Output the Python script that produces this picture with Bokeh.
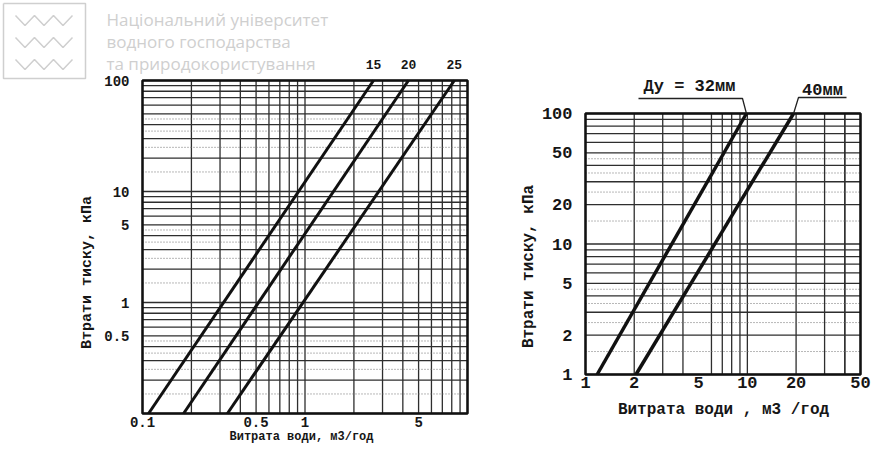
import math
from bokeh.plotting import figure
from bokeh.layouts import row
from bokeh.models import FixedTicker, CustomJSTickFormatter, Label, Range1d
from bokeh.embed import file_html
from bokeh.resources import INLINE

# ---------------- data ----------------
# left chart: DN15 / DN20 / DN25
left_sizes = ["15", "20", "25"]
left_dp = [0.1, 100]            # kPa (line end points)
flow_dn15 = [0.109, 2.64]       # m3/h
flow_dn20 = [0.179, 4.33]
flow_dn25 = [0.333, 8.3]
left_x_range = [0.1, 10]
left_y_range = [0.1, 100]
left_x_ticks = [0.1, 0.5, 1, 5]
left_y_ticks = [0.5, 1, 5, 10, 100]

# right chart: DN32 / DN40
right_sizes = ["Ду = 32мм", "40мм"]
right_dp = [1, 100]
flow_dn32 = [1.18, 9.87]
flow_dn40 = [2.05, 19.3]
right_x_range = [1, 50]
right_y_range = [1, 100]
right_x_ticks = [1, 2, 5, 10, 20, 50]
right_y_ticks = [1, 2, 5, 10, 20, 50, 100]

y_title = "Втрати тиску, кПа"
left_x_title = "Витрата води, м3/год"
right_x_title = "Витрата води , м3 /год"
watermark = ["Національний університет", "водного господарства", "та природокористування"]

MONO = "Liberation Mono"
INK = "#161616"
GRID = "#2e2e2e"
WM = "#cfcfcf"


def log_grid(decades, stop, skip=()):
    vals = []
    for d in decades:
        for m in range(1, 10):
            v = round(d * m, 6)
            if v not in skip:
                vals.append(v)
    vals.append(stop)
    return vals


def half_grid(decades):
    return [round(d * (m + 0.5), 6) for d in decades for m in range(1, 5)]


def make_chart(page_x, page_y, W, H, box, xr, yr):
    """box = (left, right, top, bottom) of the chart frame in page pixels."""
    bl, br, bt, bb = box
    lx0, lx1 = math.log10(xr[0]), math.log10(xr[1])
    dx = (lx1 - lx0) / (br - bl)
    xs = lx0 - (bl - page_x) * dx
    xe = lx1 + (page_x + W - br) * dx
    ly0, ly1 = math.log10(yr[0]), math.log10(yr[1])
    dy = (ly1 - ly0) / (bb - bt)
    ys = ly0 - (page_y + H - bb) * dy
    ye = ly1 + (bt - page_y) * dy
    p = figure(width=W, height=H, x_axis_type="log", y_axis_type="log",
               x_range=Range1d(10 ** xs, 10 ** xe),
               y_range=Range1d(10 ** ys, 10 ** ye),
               output_backend="svg", toolbar_location=None, title=None,
               min_border_left=0, min_border_right=0, min_border_top=0,
               min_border_bottom=0)
    p.background_fill_color = "white"
    p.border_fill_color = "white"
    p.outline_line_color = None
    p.xgrid.visible = False
    p.ygrid.visible = False

    def at(px, py):
        return 10 ** (xs + (px - page_x) * dx), 10 ** (ye - (py - page_y) * dy)
    return p, at


def axes(p, xr, yr, xt, yt, font_px, xstand, ystand):
    ax, ay = p.xaxis[0], p.yaxis[0]
    ax.fixed_location = yr[0]
    ay.fixed_location = xr[0]
    ax.bounds = (xr[0], xr[1])
    ay.bounds = (yr[0], yr[1])
    ax.major_label_standoff = xstand
    ay.major_label_standoff = ystand
    for a, ticks in ((ax, xt), (ay, yt)):
        a.ticker = FixedTicker(ticks=ticks)
        a.formatter = CustomJSTickFormatter(code="return String(tick);")
        a.major_tick_line_color = None
        a.minor_tick_line_color = None
        a.major_tick_out = 0
        a.major_tick_in = 0
        a.minor_tick_out = 0
        a.minor_tick_in = 0
        a.axis_line_color = None
        a.major_label_text_font = MONO
        a.major_label_text_font_style = "bold"
        a.major_label_text_font_size = font_px
        a.major_label_text_color = INK


def grid_and_box(p, xr, yr, gx, gy, gy_dotted):
    p.segment(x0=gx, y0=[yr[0]] * len(gx), x1=gx, y1=[yr[1]] * len(gx),
              line_color=GRID, line_width=1.3)
    p.segment(x0=[xr[0]] * len(gy), y0=gy, x1=[xr[1]] * len(gy), y1=gy,
              line_color=GRID, line_width=1.3)
    p.segment(x0=[xr[0]] * len(gy_dotted), y0=gy_dotted,
              x1=[xr[1]] * len(gy_dotted), y1=gy_dotted,
              line_color="#707070", line_width=1, line_dash="1 2")
    p.quad(left=[xr[0]], right=[xr[1]], bottom=[yr[0]], top=[yr[1]],
           fill_color=None, line_color="#111111", line_width=2.5)


def txt(p, xy, text, size, angle=0.0, align="center", font=MONO,
        style_="bold", color=INK):
    p.add_layout(Label(x=xy[0], y=xy[1], text=text, angle=angle,
                       text_align=align, text_baseline="middle",
                       text_font=font, text_font_style=style_,
                       text_font_size=size, text_color=color))


# ---------------- left chart ----------------
p1, at1 = make_chart(0, 0, 498, 454, (142, 467, 80, 413),
                     left_x_range, left_y_range)
grid_and_box(p1, left_x_range, left_y_range,
             log_grid([0.1, 1], 10), log_grid([0.1, 1, 10], 100),
             half_grid([0.1, 1, 10]))
axes(p1, left_x_range, left_y_range, left_x_ticks, left_y_ticks, "14px", 3, 13)

for flows, name in zip([flow_dn15, flow_dn20, flow_dn25], left_sizes):
    p1.line(flows, left_dp, line_width=3, line_color="#111111")
    txt(p1, (flows[1], at1(0, 64)[1]), name, "13px")

txt(p1, at1(87, 272), y_title, "15px", angle=math.pi / 2)
txt(p1, at1(301, 436), left_x_title, "12px")

# watermark (logo + text)
for i, line in enumerate(watermark):
    txt(p1, at1(106, 19 + i * 22), line, "17px", align="left",
        font="Open Sans", style_="normal", color=WM)
logo = [[(3, 3), (85, 3), (85, 78), (3, 78), (3, 3)]]
for r in range(3):
    top, bot = 15 + r * 22, 25 + r * 22
    logo.append([(15 + k * 9.5, top if k % 2 == 0 else bot) for k in range(7)])
p1.multi_line([[at1(x, y)[0] for x, y in pl] for pl in logo],
              [[at1(x, y)[1] for x, y in pl] for pl in logo],
              line_color=WM, line_width=1.5)

# ---------------- right chart ----------------
p2, at2 = make_chart(498, 0, 374, 454, (585, 860, 113, 374),
                     right_x_range, right_y_range)
grid_and_box(p2, right_x_range, right_y_range,
             log_grid([1, 10], 40, skip=(5,)), log_grid([1, 10], 100),
             half_grid([1, 10]))
axes(p2, right_x_range, right_y_range, right_x_ticks, right_y_ticks, "17px", 2, 13)

p2.line(flow_dn32, right_dp, line_width=3.5, line_color="#111111")
p2.line(flow_dn40, right_dp, line_width=3.5, line_color="#111111")

txt(p2, at2(689, 86), right_sizes[0], "17px")
txt(p2, at2(822, 90), right_sizes[1], "17px")
# leader lines from the size labels to the top end of each curve
lead32 = [at2(638, 98), at2(742, 98)]
lead40 = [at2(846, 97), at2(798, 97)]
p2.line([q[0] for q in lead32] + [flow_dn32[1]],
        [q[1] for q in lead32] + [right_dp[1]], line_color="#222222", line_width=1.3)
p2.line([q[0] for q in lead40] + [flow_dn40[1]],
        [q[1] for q in lead40] + [right_dp[1]], line_color="#222222", line_width=1.3)

txt(p2, at2(528, 266), y_title, "16px", angle=math.pi / 2)
txt(p2, at2(723, 409), right_x_title, "16px")

layout = row(p1, p2)
open("out.html", "w").write(file_html(layout, INLINE))
